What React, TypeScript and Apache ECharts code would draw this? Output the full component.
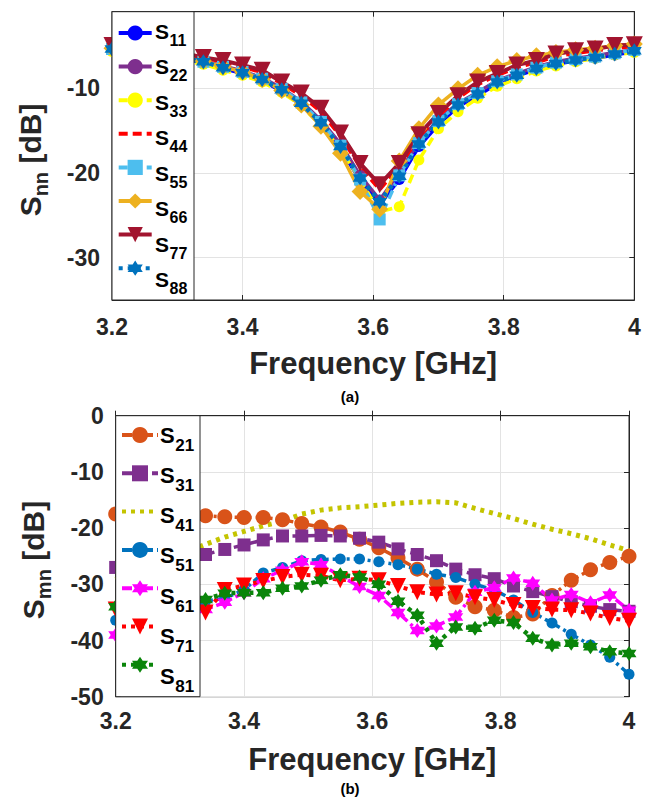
import React, { useEffect, useRef } from "react";
import * as echarts from "echarts";

const FONT = "Liberation Sans";
const INK = "#262626";

// Frequencies (GHz)
const freq = [3.2, 3.22, 3.25, 3.28, 3.31, 3.34, 3.37, 3.4, 3.43, 3.46, 3.49, 3.52, 3.55, 3.58, 3.61, 3.64, 3.67, 3.7, 3.73, 3.76, 3.79, 3.82, 3.85, 3.88, 3.91, 3.94, 3.97, 4.0];

// (a) reflection coefficients, dB
const s11 = [-5.5, -5.7, -6.0, -6.3, -6.6, -7.0, -7.7, -8.3, -9.1, -10.4, -12.0, -14.3, -17.2, -20.9, -23.7, -20.8, -16.9, -14.3, -12.2, -10.9, -9.5, -8.6, -7.8, -7.2, -6.8, -6.5, -6.1, -5.7];
const s22 = [-5.3, -5.5, -5.8, -6.1, -6.4, -6.8, -7.4, -8.0, -8.8, -10.0, -11.6, -13.8, -16.6, -20.3, -23.2, -20.0, -16.3, -13.7, -11.8, -10.5, -9.1, -8.3, -7.5, -6.9, -6.5, -6.2, -5.8, -5.5];
const s33 = [-5.7, -5.9, -6.2, -6.5, -6.8, -7.2, -7.9, -8.5, -9.3, -10.5, -12.1, -14.4, -17.2, -20.8, -24.6, -24.0, -18.5, -14.8, -12.8, -11.2, -9.8, -8.9, -8.0, -7.4, -6.9, -6.5, -6.1, -5.8];
const s44 = [-5.1, -5.3, -5.5, -5.8, -6.1, -6.5, -6.9, -7.5, -8.2, -9.5, -10.9, -12.8, -15.7, -19.3, -22.0, -19.3, -15.8, -13.3, -11.2, -9.6, -8.5, -7.6, -7.0, -6.3, -5.9, -5.6, -5.3, -5.1];
const s55 = [-5.4, -5.6, -5.9, -6.2, -6.5, -6.9, -7.5, -8.1, -8.9, -10.1, -11.7, -14.0, -16.8, -20.8, -25.5, -20.3, -16.5, -13.9, -11.9, -10.6, -9.2, -8.4, -7.6, -7.0, -6.6, -6.3, -5.9, -5.5];
const s66 = [-5.3, -5.5, -5.8, -6.1, -6.4, -6.8, -7.5, -8.1, -9.0, -10.3, -12.0, -14.5, -17.7, -22.2, -24.3, -18.6, -14.8, -12.0, -10.1, -8.5, -7.5, -6.75, -6.2, -5.8, -5.5, -5.3, -5.0, -4.8];
const s77 = [-5.0, -5.2, -5.4, -5.6, -5.9, -6.4, -6.75, -7.3, -7.9, -9.3, -10.6, -12.4, -15.3, -18.9, -21.4, -18.9, -15.5, -13.0, -10.9, -9.3, -8.3, -7.3, -6.75, -6.0, -5.6, -5.4, -5.0, -4.9];
const s88 = [-5.4, -5.6, -5.9, -6.2, -6.5, -6.9, -7.6, -8.2, -9.0, -10.2, -11.8, -14.1, -16.9, -20.6, -23.4, -20.4, -16.6, -14.0, -12.0, -10.7, -9.3, -8.5, -7.7, -7.1, -6.7, -6.4, -6.0, -5.6];

// (b) coupling coefficients, dB
const s21 = [-17.5, -17.6, -17.7, -17.8, -17.8, -17.8, -18.0, -18.1, -18.1, -18.5, -19.2, -19.8, -20.7, -22.0, -23.5, -25.3, -27.3, -29.6, -32.3, -34.0, -34.6, -35.9, -35.3, -32.0, -29.3, -27.4, -26.1, -25.0];
const s31 = [-27.0, -26.5, -26.0, -25.5, -25.0, -24.7, -23.8, -23.0, -22.1, -21.4, -21.4, -21.3, -21.4, -21.8, -22.5, -23.7, -24.7, -25.8, -27.3, -28.3, -29.0, -30.3, -31.3, -32.2, -33.1, -33.9, -34.5, -34.8];
const s41 = [-29.2, -28.0, -26.8, -25.5, -24.3, -22.9, -21.6, -20.6, -19.6, -18.8, -17.5, -16.8, -16.4, -16.2, -15.9, -15.6, -15.4, -15.3, -15.5, -16.5, -17.4, -18.3, -19.3, -20.2, -21.0, -21.9, -23.0, -24.0];
const s51 = [-36.4, -35.8, -35.0, -34.0, -34.5, -33.0, -32.5, -31.0, -28.0, -27.0, -25.8, -25.6, -25.5, -25.5, -26.0, -26.5, -27.3, -28.2, -28.8, -30.0, -31.0, -32.8, -35.0, -36.9, -38.9, -40.8, -43.0, -46.0];
const s61 = [-39.0, -38.0, -37.0, -36.0, -35.2, -34.5, -33.2, -31.5, -29.0, -27.5, -26.0, -26.5, -28.5, -30.4, -32.0, -35.0, -38.2, -37.4, -35.8, -31.4, -30.6, -28.9, -29.8, -32.8, -31.8, -33.3, -31.9, -34.6];
const s71 = [-34.5, -34.0, -33.5, -33.0, -32.8, -35.0, -31.0, -30.2, -29.4, -28.7, -28.3, -28.5, -29.3, -29.0, -29.3, -30.3, -31.4, -31.8, -31.6, -32.3, -32.8, -33.7, -34.2, -34.5, -34.6, -35.2, -36.0, -36.5];
const s81 = [-34.0, -33.8, -33.5, -33.3, -33.0, -32.7, -31.6, -31.5, -31.5, -30.7, -30.3, -29.3, -28.3, -28.7, -30.0, -33.0, -35.5, -40.5, -37.6, -37.8, -36.4, -36.8, -39.6, -40.8, -40.5, -41.1, -42.0, -42.3];

const topNames = ["S11", "S22", "S33", "S44", "S55", "S66", "S77", "S88"];
const botNames = ["S21", "S31", "S41", "S51", "S61", "S71", "S81"];
const noMarker = ["S44", "S41"];
const topTicks = [-30, -20, -10];
const botTicks = [-50, -40, -30, -20, -10, 0];

const HEX = "path://M0,-10 L2.9,-5 L8.66,-5 L5.8,0 L8.66,5 L2.9,5 L0,10 L-2.9,5 L-8.66,5 L-5.8,0 L-8.66,-5 L-2.9,-5 Z";
const DASH = [9, 5];
const DOT = [4, 5];
const DASHDOT = [10, 4, 3, 4];

function mk(name: string, vals: number[], color: string, symbol: string, size: number, type: any, axis: number, width = 3.5, rotate = 0) {
  return {
    name,
    type: "line",
    xAxisIndex: axis,
    yAxisIndex: axis,
    data: freq.map((f, i) => [f, vals[i]]),
    symbol,
    symbolSize: size,
    symbolRotate: rotate,
    showSymbol: symbol !== "none",
    lineStyle: { color, width, type, cap: "butt" },
    itemStyle: { color },
    emphasis: { disabled: true },
  };
}

let ctx: CanvasRenderingContext2D | null = null;
function textW(t: string, size: number) {
  if (!ctx) ctx = document.createElement("canvas").getContext("2d");
  ctx!.font = `bold ${size}px "${FONT}"`;
  return ctx!.measureText(t).width;
}

// "S" + subscript, drawn as real text pieces
function subLabel(x: number, cy: number, sub: string, big: number, small: number, drop: number, z = 7) {
  const w = textW("S", big);
  return [
    { type: "text", z, x, y: cy, style: { text: "S", font: `bold ${big}px "${FONT}"`, fill: "#000", textVerticalAlign: "middle" } },
    { type: "text", z, x: x + w + 0.5, y: cy + drop, style: { text: sub, font: `bold ${small}px "${FONT}"`, fill: "#000", textVerticalAlign: "middle" } },
  ];
}

// rotated axis title "S_sub [dB]"
function yTitle(cx: number, cy: number, sub: string) {
  const big = 30, small = 20, drop = 11;
  const wS = textW("S", big), wSub = textW(sub, small), wRest = textW(" [dB]", big);
  const total = wS + wSub + wRest;
  const x0 = -total / 2;
  const font = (s: number) => `bold ${s}px "${FONT}"`;
  return {
    type: "group", x: cx, y: cy, rotation: Math.PI / 2, z: 7,
    children: [
      { type: "text", x: x0, y: 0, style: { text: "S", font: font(big), fill: INK, textVerticalAlign: "middle" } },
      { type: "text", x: x0 + wS, y: drop, style: { text: sub, font: font(small), fill: INK, textVerticalAlign: "middle" } },
      { type: "text", x: x0 + wS + wSub, y: 0, style: { text: " [dB]", font: font(big), fill: INK, textVerticalAlign: "middle" } },
    ],
  };
}

const legendData = (names: string[]) =>
  names.map((n) => (noMarker.includes(n) ? { name: n, itemStyle: { color: "rgba(0,0,0,0)", borderWidth: 0, opacity: 0 } } : { name: n }));

function App() {
  const ref = useRef<HTMLDivElement>(null);
  useEffect(() => {
    const chart = echarts.init(ref.current!, null, { renderer: "svg" });
    const xFmt = (v: number) => (Math.abs(v - 4) < 1e-6 ? "4" : v.toFixed(1));
    const mkX = (gi: number, margin: number, gap: number) => [
      {
        type: "value", gridIndex: gi, min: 3.2, max: 4, interval: 0.2, position: "bottom",
        axisLine: { show: true, lineStyle: { color: INK, width: 1 } },
        axisTick: { show: true, inside: true, length: 5, lineStyle: { color: INK } },
        axisLabel: { formatter: xFmt, fontFamily: FONT, fontWeight: "bold", fontSize: 23, color: INK, margin },
        splitLine: { show: true, lineStyle: { color: "#e3e3e3", width: 1 } },
        name: "Frequency [GHz]", nameLocation: "middle", nameGap: gap,
        nameTextStyle: { fontFamily: FONT, fontWeight: "bold", fontSize: 31, color: INK },
      },
      {
        type: "value", gridIndex: gi, min: 3.2, max: 4, interval: 0.2, position: "top",
        axisLine: { show: true, lineStyle: { color: INK, width: 1 } },
        axisTick: { show: true, inside: true, length: 5, lineStyle: { color: INK } },
        axisLabel: { show: false }, splitLine: { show: false },
      },
    ];
    const mkY = (gi: number, min: number, max: number, ticks: number[]) => [
      {
        type: "value", gridIndex: gi, min, max, position: "left",
        axisLine: { show: true, lineStyle: { color: INK, width: 1 } },
        axisTick: { show: true, inside: true, length: 5, lineStyle: { color: INK }, customValues: ticks },
        axisLabel: { customValues: ticks, fontFamily: FONT, fontWeight: "bold", fontSize: 23, color: INK, margin: 12 },
        splitLine: { show: true, lineStyle: { color: "#e3e3e3", width: 1 } },
      },
      {
        type: "value", gridIndex: gi, min, max, position: "right",
        axisLine: { show: true, lineStyle: { color: INK, width: 1 } },
        axisTick: { show: true, inside: true, length: 5, lineStyle: { color: INK }, customValues: ticks },
        axisLabel: { show: false }, splitLine: { show: false },
      },
    ];

    const topC = 33, topStep = 35.5, botC = 435, botStep = 40.3;
    const topIH = 19, botIH = 20;
    const legendTexts: any[] = [];
    topNames.forEach((n, k) => legendTexts.push(...subLabel(155, topC + k * topStep - 2, n.slice(1), 21, 16, 9)));
    botNames.forEach((n, k) => legendTexts.push(...subLabel(160, botC + k * botStep, n.slice(1), 22, 17, 10)));

    const option: any = {
      animation: false,
      backgroundColor: "#ffffff",
      grid: [
        { left: 112, top: 11.7, width: 522.3, height: 288.3, show: true, borderColor: INK, borderWidth: 1 },
        { left: 115.7, top: 415.7, width: 513.3, height: 281, show: true, borderColor: INK, borderWidth: 1 },
      ],
      xAxis: [...mkX(0, 15, 48), ...mkX(1, 13, 47)],
      yAxis: [...mkY(0, -35, -1, topTicks), ...mkY(1, -50, 0, botTicks)],
      legend: [
        {
          orient: "vertical", left: 116.7, top: topC - topIH / 2, itemWidth: 33, itemHeight: topIH, itemGap: topStep - topIH, padding: 0,
          selectedMode: false, z: 6, data: legendData(topNames), formatter: () => "", textStyle: { fontSize: 1 },
          lineStyle: { width: 4 },
        },
        {
          orient: "vertical", left: 120, top: botC - botIH / 2, itemWidth: 36, itemHeight: botIH, itemGap: botStep - botIH, padding: 0,
          selectedMode: false, z: 6, data: legendData(botNames), formatter: () => "", textStyle: { fontSize: 1 },
          lineStyle: { width: 4 },
        },
      ],
      graphic: [
        { type: "rect", z: 4, shape: { x: 112, y: 11.7, width: 82, height: 288.3 }, style: { fill: "#fff", stroke: INK, lineWidth: 1 } },
        { type: "rect", z: 4, shape: { x: 115.7, y: 415.7, width: 84.3, height: 281 }, style: { fill: "#fff", stroke: INK, lineWidth: 1 } },
        ...legendTexts,
        yTitle(30, 160, "nn"),
        yTitle(33, 560, "mn"),
        { type: "text", z: 7, x: 350, y: 396, style: { text: "(a)", font: `bold 15px "${FONT}"`, fill: "#000", textAlign: "center", textVerticalAlign: "middle" } },
        { type: "text", z: 7, x: 350, y: 788, style: { text: "(b)", font: `bold 15px "${FONT}"`, fill: "#000", textAlign: "center", textVerticalAlign: "middle" } },
      ],
      series: [
        mk("S11", s11, "#0000FF", "circle", 11, "solid", 0),
        mk("S22", s22, "#7E2F8E", "circle", 11, "solid", 0),
        mk("S33", s33, "#FFFF00", "circle", 11, DASH, 0),
        mk("S44", s44, "#FF0000", "none", 0, DASH, 0),
        mk("S55", s55, "#4DBEEE", "rect", 12, DASH, 0),
        mk("S66", s66, "#EDB120", "diamond", 17, "solid", 0),
        mk("S77", s77, "#A2142F", "triangle", 17, "solid", 0, 4, 180),
        mk("S88", s88, "#0072BD", HEX, 15, DOT, 0, 4.5),
        mk("S21", s21, "#D95319", "circle", 15, DASHDOT, 2),
        mk("S31", s31, "#7E2F8E", "rect", 13, [10, 5], 2),
        mk("S41", s41, "#C4C400", "none", 0, DOT, 2, 5),
        mk("S51", s51, "#0072BD", "circle", 11, DASHDOT, 2),
        mk("S61", s61, "#FF00FF", HEX, 15, DASHDOT, 2),
        mk("S71", s71, "#FF0000", "triangle", 16, DOT, 2, 4, 180),
        mk("S81", s81, "#0A850A", HEX, 15, DOT, 2, 4.5),
      ],
    };
    chart.setOption(option);
    return () => chart.dispose();
  }, []);
  return <div ref={ref} style={{ position: "absolute", left: 0, top: 0, width: 654, height: 800, background: "#fff" }} />;
}

export default App;
